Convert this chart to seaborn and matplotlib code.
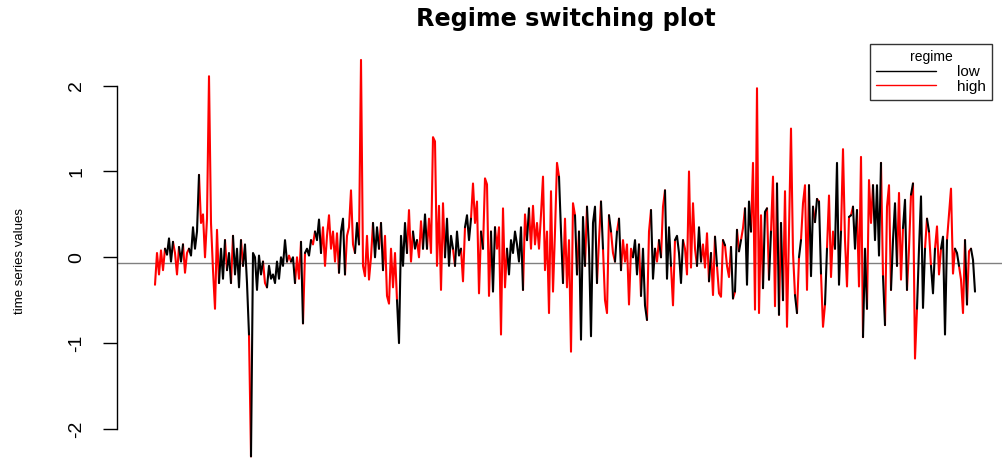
import matplotlib
matplotlib.use("Agg")
import matplotlib.pyplot as plt
from matplotlib import font_manager
from matplotlib.lines import Line2D
import pandas as pd
import seaborn as sns

# series values (about one point every 2 px)
values = [
    -0.32, 0.05, -0.2, 0.08, -0.15, 0.1, 0.03, 0.22, -0.05, 0.18,
    0.05, -0.2, 0.12, -0.05, 0.15, -0.18, 0.05, 0.1, 0.02, 0.35,
    0.1, 0.3, 0.96, 0.4, 0.5, 0.0, 0.45, 2.11, 0.4, -0.15,
    -0.6, 0.32, -0.3, 0.1, -0.25, 0.2, -0.15, 0.05, -0.3, 0.25,
    -0.2, 0.1, -0.35, 0.2, -0.1, 0.15, -0.3, -0.9, -2.32, 0.05,
    0.0, -0.38, 0.02, -0.2, -0.05, -0.3, -0.35, -0.1, -0.25, -0.2,
    -0.3, -0.05, -0.25, 0.0, -0.1, 0.2, -0.05, 0.02, -0.05, 0.0,
    -0.3, 0.0, -0.25, 0.18, -0.77, 0.05, 0.1, 0.02, 0.2, 0.15,
    0.3, 0.2, 0.44, 0.05, 0.35, -0.1, 0.25, 0.49, 0.1, 0.3,
    -0.05, 0.28, -0.18, 0.3, 0.45, -0.2, 0.25, 0.35, 0.78, 0.15,
    0.05, 0.4, 0.15, 2.3, -0.1, -0.22, 0.25, -0.26, 0.0, 0.4,
    0.0, 0.35, 0.1, 0.4, -0.15, 0.25, -0.45, -0.54, 0.1, -0.35,
    0.05, -0.5, -1.0, 0.25, -0.1, 0.4, 0.05, 0.55, -0.05, 0.3,
    0.1, 0.2, 0.0, 0.42, 0.1, 0.5, 0.1, 0.45, 0.05, 1.4,
    1.35, -0.1, 0.6, -0.38, 0.63, 0.0, 0.45, -0.1, 0.25, 0.1,
    -0.1, 0.3, 0.02, 0.1, -0.28, 0.35, 0.49, 0.2, 0.45, 0.86,
    0.4, 0.65, -0.42, 0.3, 0.1, 0.92, 0.85, -0.45, 0.3, -0.4,
    0.35, 0.1, 0.35, -0.9, 0.57, -0.35, 0.1, -0.2, 0.2, 0.05,
    0.3, 0.15, -0.05, 0.35, -0.38, 0.5, 0.2, 0.57, 0.1, 0.6,
    0.15, 0.4, 0.1, 0.5, 0.94, -0.15, 0.3, -0.65, 0.77, -0.4,
    0.3, 1.1, 0.94, 0.3, -0.3, 0.45, -0.35, 0.2, -1.1, 0.63,
    0.49, -0.2, 0.3, -0.96, 0.47, -0.1, 0.59, 0.1, -0.92, 0.4,
    0.59, -0.3, 0.2, 0.65, 0.1, -0.5, -0.65, 0.49, 0.3, 0.05,
    -0.05, 0.3, 0.45, -0.15, 0.2, -0.05, 0.15, -0.55, 0.1, 0.0,
    0.2, -0.2, 0.15, -0.45, 0.1, -0.56, -0.73, 0.3, 0.55, -0.25,
    0.1, -0.05, 0.2, 0.0, 0.59, 0.78, -0.25, 0.35, -0.1, -0.56,
    0.2, 0.25, 0.05, -0.3, 0.2, 0.1, -0.2, 1.0, -0.12, 0.63,
    0.1, -0.1, 0.35, -0.05, 0.15, -0.12, 0.28, -0.28, 0.05, -0.44,
    0.24, -0.1, -0.42, -0.46, 0.2, 0.14, -0.1, -0.23, 0.12, -0.48,
    -0.4, 0.32, 0.07, 0.2, 0.34, 0.57, -0.32, 0.65, 0.3, 1.1,
    -0.61, 1.97, -0.65, 0.49, -0.36, 0.53, 0.57, -0.26, 0.3, 0.94,
    -0.57, 0.86, -0.67, 0.4, -0.5, 0.77, -0.81, 0.3, 1.5, 0.05,
    -0.44, -0.65, 0.0, 0.2, 0.63, 0.84, -0.38, 0.84, -0.22, 0.59,
    0.41, 0.68, 0.65, -0.19, -0.81, -0.55, 0.1, 0.72, -0.23, 0.3,
    0.1, 1.1, -0.32, 0.3, 1.26, 0.2, -0.34, 0.47, 0.49, 0.59,
    0.1, 0.55, -0.34, 1.17, -0.93, 0.1, -0.6, 0.9, 0.4, 0.84,
    0.2, 0.84, 0.02, 1.1, -0.22, -0.79, 0.59, 0.84, -0.38, 0.2,
    0.63, -0.1, 0.75, -0.26, 0.34, 0.67, -0.38, 0.1, 0.73, 0.86,
    -1.18, -0.6, 0.1, 0.71, -0.59, 0.1, 0.45, 0.3, -0.1, -0.42,
    0.1, 0.36, -0.2, 0.1, 0.24, -0.9, 0.2, 0.5, 0.8, -0.19,
    0.1, 0.05, -0.1, -0.26, -0.65, 0.2, -0.55, 0.07, 0.1, -0.03,
    -0.4,
]

# regime of each point: L = low, H = high
regime_codes = (
    "HHHHHLLLLH" "HHLLHHHLLL" "LLHHHHHHHH" "HHLLLHLLHL" "LLLHLLLHLL"
    "LLLLHHLLLL" "LLLLLLHHLL" "HHHLHLLLHH" "LLLHHHHHHH" "HHLLLHHHHH"
    "LLHHHHHHHL" "LLHLHHHHHH" "HLLLLLHHHL" "LHHHLLHHHH" "HHHHHLLLLH"
    "LLLHHLLLHH" "HHHLHHHHLL" "HHHHHHLLLL" "LLLLHHLHHH" "HHHHHHHHHH"
    "HHLLHHHHHH" "LHLLLHLLLL" "LHHLHHHLHH" "LHLHHHHHHL" "LLHLLLHHLL"
    "HHLHHLLLHH" "LLLLHHHHHH" "HLLHHHHLHH" "LHHHLHHHLH" "LHLHHLLLHH"
    "HHHHLLHLHH" "HLHLHHHHHH" "LHLHHHHLLH" "LHLHHLHHHH" "LLLHHHHLHL"
    "LHHHLLHHHL" "LLLHLHHHLL" "LHHHLLHHLH" "HLLLLHLHLL" "HHHLLLHHHH"
    "LLHHHLHHLL" "L"
)
regime_names = {"L": "low", "H": "high"}
regime_colors = {"low": "black", "high": "red"}

title = "Regime switching plot"
y_label = "time series values"
y_ticks = [-2, -1, 0, 1, 2]
y_tick_labels = ["-2", "-1", "0", "1", "2"]
ref_level = -0.063

# one unit per run of equal regime, carried on to the next point so the line stays joined
rows = []
run = 0
n = len(values)
for i in range(n):
    reg = regime_names[regime_codes[i]]
    if i > 0 and regime_codes[i] != regime_codes[i - 1]:
        run += 1
    rows.append((i, values[i], reg, run))
    if i < n - 1 and regime_codes[i + 1] != regime_codes[i]:
        rows.append((i + 1, values[i + 1], reg, run))
df = pd.DataFrame(rows, columns=["t", "value", "regime", "run"])

sns.set_style("white")
names = {f.name for f in font_manager.fontManager.ttflist}
narrow = "Liberation Sans Narrow" if "Liberation Sans Narrow" in names else "Liberation Sans"
plt.rcParams["font.family"] = ["Liberation Sans", "DejaVu Sans"]
plt.rcParams["text.color"] = "black"
plt.rcParams["axes.labelcolor"] = "black"
plt.rcParams["ytick.color"] = "black"

fig = plt.figure(figsize=(10.03, 4.58), dpi=100)
ax = fig.add_axes([117 / 1003, 0, 898 / 1003, 413 / 458])

ax.axhline(ref_level, color="#808080", lw=1.0, zorder=1)
sns.lineplot(data=df, x="t", y="value", hue="regime", units="run", estimator=None,
             palette=regime_colors, sort=False, lw=1.5, legend=False, ax=ax, zorder=2)

ax.set_xlim(-19, 430)
ax.set_ylim(-2.339, 2.474)

for side in ["top", "right", "bottom"]:
    ax.spines[side].set_visible(False)
ax.spines["left"].set_bounds(-2, 2)
ax.spines["left"].set_color("black")
ax.spines["left"].set_linewidth(1.0)
ax.set_xticks([])
ax.set_xlabel("")
ax.set_yticks(y_ticks)
ax.set_yticklabels(y_tick_labels, rotation=90, va="center", family=[narrow, "DejaVu Sans"],
                   fontsize=14, color="black")
ax.tick_params(axis="y", left=True, length=10, width=1, pad=13, color="black", direction="out")

ax.set_ylabel(y_label, family=[narrow, "DejaVu Sans"], fontsize=9.5, color="black")
ax.yaxis.set_label_coords(-0.1008, 0.477)

ax.set_title(title, family="DejaVu Sans", fontweight="bold", fontsize=17.2, y=1.063,
             va="center", pad=0, color="black")

handles = [Line2D([], [], color=regime_colors[k], lw=1.0) for k in ["low", "high"]]
leg = ax.legend(handles, ["low", "high"], title="regime", loc="upper left",
                bbox_to_anchor=(870 / 1003, 1 - 44 / 458), bbox_transform=fig.transFigure,
                fontsize=11, title_fontsize=10, frameon=True, fancybox=False,
                borderpad=0.4, labelspacing=0.05, handlelength=3.9, handletextpad=1.4,
                borderaxespad=0)
leg.get_frame().set_edgecolor("black")
leg.get_frame().set_linewidth(1.0)
for txt in leg.get_texts():
    txt.set_color("black")
leg.get_title().set_color("black")

fig.savefig("out.png", dpi=100)
